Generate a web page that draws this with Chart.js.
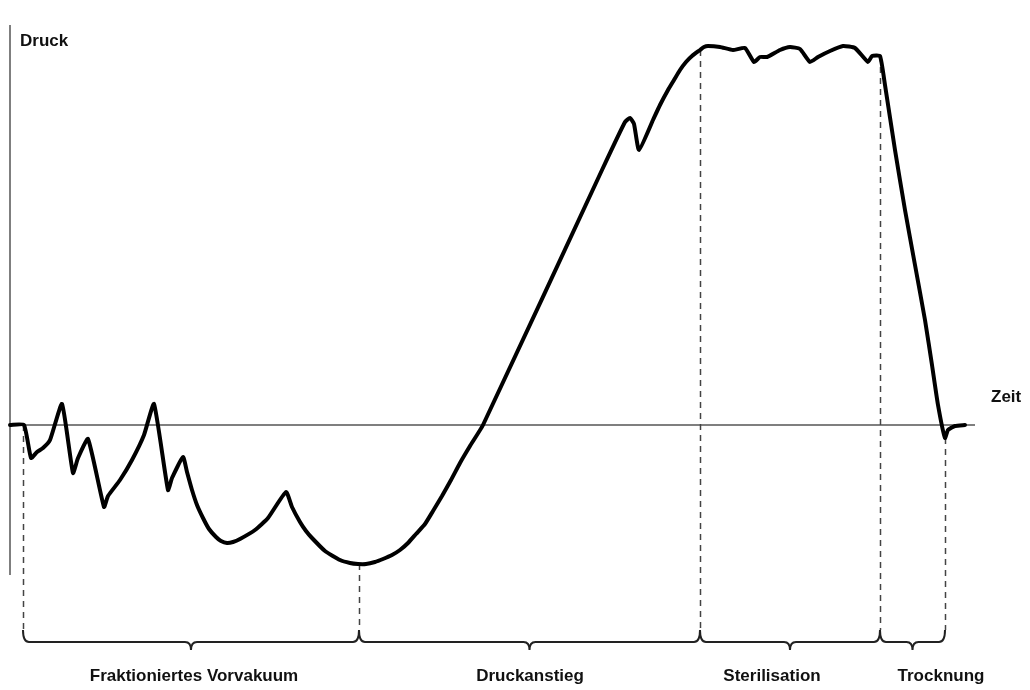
<!DOCTYPE html>
<html>
<head>
<meta charset="utf-8">
<script src="https://cdn.jsdelivr.net/npm/chart.js@4.4.1/dist/chart.umd.min.js"></script>
<style>
    html, body { margin: 0; padding: 0; background: #fff; }
    #wrap { width: 1030px; height: 690px; }
</style>
</head>
<body>
<div id="wrap"><canvas id="chart" width="1030" height="690"></canvas></div>
<script>
// Zeit (arbitrary units) and Druck relative to ambient (0 = atmosphere)
const timeVals = [
    0, 1.4, 2.1, 2.7, 3.3, 4.0, 5.2, 6.3, 6.8, 7.8,
    9.4, 9.8, 11.0, 12.2, 13.4, 14.4, 15.8, 16.2, 17.3, 17.7,
    18.2, 18.7, 19.3, 19.9, 20.6, 21.1, 21.7, 22.3, 23.0, 24.5,
    25.8, 27.6, 28.2, 29.0, 29.6, 30.2, 31.5, 33.0, 34.0, 34.8,
    35.6, 36.5, 37.3, 38.2, 39.0, 39.8, 40.6, 41.5, 42.3, 43.2,
    44.1, 45.0, 46.0, 47.3, 59.2, 61.5, 62.0, 62.4, 62.9, 64.3,
    65.0, 65.8, 66.4, 67.0, 67.6, 68.2, 69.0, 69.4, 69.8, 71.0,
    72.3, 73.5, 74.4, 75.0, 75.7, 77.0, 78.0, 79.0, 80.0, 80.8,
    82.0, 83.3, 84.5, 85.8, 86.2, 87.0, 87.5, 88.5, 89.5, 90.5,
    91.5, 92.2, 92.8, 93.5, 93.8, 94.5, 95.5
];
const pressureVals = [
    0, 0, -0.33, -0.27, -0.23, -0.15, 0.21, -0.48, -0.33, -0.14,
    -0.82, -0.71, -0.55, -0.35, -0.10, 0.21, -0.65, -0.53, -0.32, -0.47,
    -0.65, -0.80, -0.93, -1.04, -1.12, -1.16, -1.18, -1.17, -1.14, -1.05,
    -0.93, -0.67, -0.82, -0.97, -1.06, -1.13, -1.26, -1.35, -1.38, -1.39,
    -1.39, -1.37, -1.34, -1.30, -1.25, -1.18, -1.09, -0.99, -0.86, -0.71,
    -0.55, -0.38, -0.21, 0, 2.55, 3.03, 3.07, 3.01, 2.75, 3.05,
    3.20, 3.35, 3.45, 3.55, 3.63, 3.69, 3.75, 3.78, 3.79, 3.78,
    3.75, 3.77, 3.63, 3.68, 3.68, 3.75, 3.78, 3.76, 3.63, 3.68,
    3.74, 3.79, 3.77, 3.63, 3.69, 3.69, 3.40, 2.75, 2.15, 1.60,
    1.05, 0.60, 0.20, -0.13, -0.05, -0.01, 0
];

// phases of the cycle
const phaseBounds = [1.3, 34.9, 69.0, 87.0, 93.5];
const phaseLabels = ['Fraktioniertes Vorvakuum', 'Druckanstieg', 'Sterilisation', 'Trocknung'];
const phaseLabelTimes = [18.4, 52.0, 76.2, 93.1];

const yTitle = 'Druck';
const xTitle = 'Zeit';

// linear lookup of the curve at a given time
function pressureAt(t) {
    for (let i = 1; i < timeVals.length; i++) {
        if (t <= timeVals[i]) {
            let f = (t - timeVals[i - 1]) / (timeVals[i] - timeVals[i - 1]);
            return pressureVals[i - 1] + f * (pressureVals[i] - pressureVals[i - 1]);
        }
    }
    return pressureVals[pressureVals.length - 1];
}

const schemaPlugin = {
    id: 'schema',
    beforeDatasetsDraw(chart, args, opts) {
        const ctx = chart.ctx;
        const xs = chart.scales.x;
        const ys = chart.scales.y;
        ctx.save();

        // axes
        ctx.strokeStyle = '#555';
        ctx.lineWidth = 1.5;
        ctx.beginPath();
        ctx.moveTo(xs.getPixelForValue(0), ys.getPixelForValue(opts.yAxisTop));
        ctx.lineTo(xs.getPixelForValue(0), ys.getPixelForValue(opts.yAxisBottom));
        ctx.moveTo(xs.getPixelForValue(0), ys.getPixelForValue(0));
        ctx.lineTo(xs.getPixelForValue(opts.xAxisEnd), ys.getPixelForValue(0));
        ctx.stroke();

        // dashed phase separators
        ctx.strokeStyle = '#444';
        ctx.setLineDash([6, 5]);
        ctx.beginPath();
        phaseBounds.forEach(t => {
            let x = Math.round(xs.getPixelForValue(t)) + 0.5;
            ctx.moveTo(x, ys.getPixelForValue(pressureAt(t)));
            ctx.lineTo(x, ys.getPixelForValue(opts.braceTop));
        });
        ctx.stroke();
        ctx.restore();
    },
    afterDraw(chart, args, opts) {
        const ctx = chart.ctx;
        const xs = chart.scales.x;
        const ys = chart.scales.y;
        ctx.save();

        // curly braces under each phase
        const yTop = ys.getPixelForValue(opts.braceTop);
        const yMid = ys.getPixelForValue(opts.braceLine);
        const r = 6;
        const tip = 8;
        ctx.strokeStyle = '#222';
        ctx.lineWidth = 2;
        for (let i = 0; i < phaseLabels.length; i++) {
            let xa = xs.getPixelForValue(phaseBounds[i]);
            let xb = xs.getPixelForValue(phaseBounds[i + 1]);
            let xm = (xa + xb) / 2;
            ctx.beginPath();
            ctx.moveTo(xa, yTop);
            ctx.quadraticCurveTo(xa, yMid, xa + r, yMid);
            ctx.lineTo(xm - r, yMid);
            ctx.quadraticCurveTo(xm, yMid, xm, yMid + tip);
            ctx.quadraticCurveTo(xm, yMid, xm + r, yMid);
            ctx.lineTo(xb - r, yMid);
            ctx.quadraticCurveTo(xb, yMid, xb, yTop);
            ctx.stroke();
        }

        // phase names
        ctx.fillStyle = '#111';
        ctx.font = 'bold 17px "Liberation Sans", Arial, sans-serif';
        ctx.textAlign = 'center';
        ctx.textBaseline = 'middle';
        const yLabel = ys.getPixelForValue(opts.labelLevel);
        phaseLabels.forEach((name, i) => {
            ctx.fillText(name, xs.getPixelForValue(phaseLabelTimes[i]), yLabel);
        });

        // axis titles
        ctx.textAlign = 'left';
        ctx.fillText(yTitle, 20, 41);
        ctx.fillText(xTitle, 991, 397);
        ctx.restore();
    }
};

new Chart(document.getElementById('chart'), {
    type: 'line',
    data: {
        datasets: [{
            label: 'Druck',
            data: timeVals.map((t, i) => ({ x: t, y: pressureVals[i] })),
            borderColor: '#000',
            borderWidth: 4,
            borderJoinStyle: 'round',
            borderCapStyle: 'round',
            tension: 0.15,
            pointRadius: 0,
            fill: false
        }]
    },
    options: {
        responsive: false,
        animation: false,
        devicePixelRatio: 1,
        layout: { padding: 0 },
        scales: {
            x: { type: 'linear', min: -1, max: 102, display: false },
            y: { type: 'linear', min: -2.65, max: 4.25, display: false }
        },
        plugins: {
            legend: { display: false },
            tooltip: { enabled: false },
            schema: {
                yAxisTop: 4.0,
                yAxisBottom: -1.5,
                xAxisEnd: 96.5,
                braceTop: -2.05,
                braceLine: -2.17,
                labelLevel: -2.51
            }
        }
    },
    plugins: [schemaPlugin]
});
</script>
</body>
</html>
